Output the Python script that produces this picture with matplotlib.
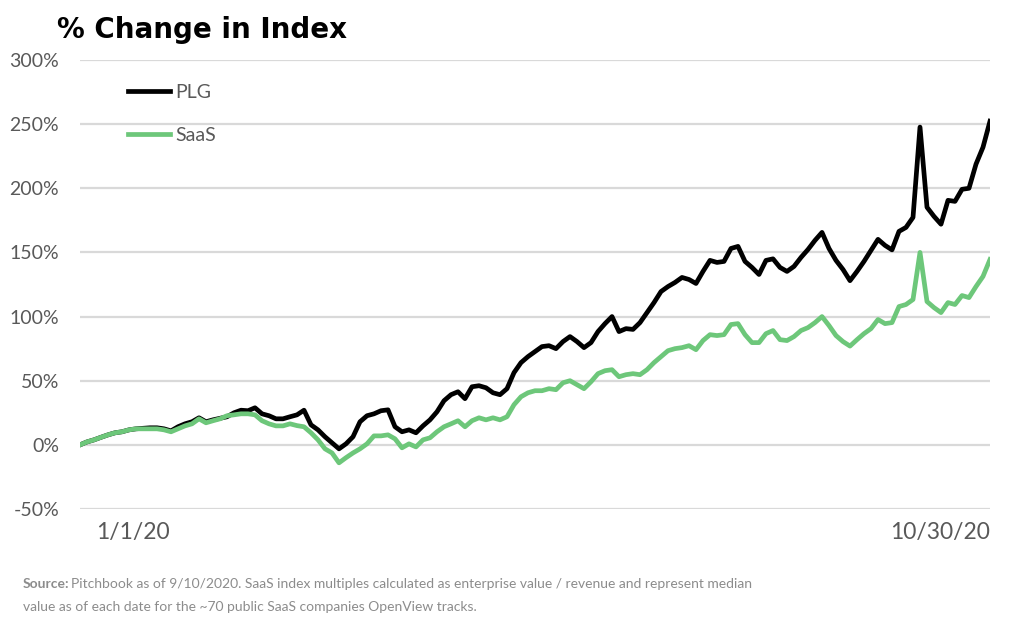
import numpy as np
from matplotlib import pyplot as plt

# % change in index (evenly spaced samples 1/1/20 .. 10/30/20)
plg = [0, 2.3, 3.9, 5.9, 7.8, 9.4, 10.2, 11.7, 12.5, 12.9,
       13.3, 13.3, 12.5, 10.9, 14.1, 16.4, 18.0, 21.1, 18.0, 19.5,
       20.7, 21.9, 25.0, 27.0, 26.6, 28.9, 24.2, 22.7, 20.3, 20.3,
       21.9, 23.4, 27.0, 15.6, 11.7, 6.3, 1.6, -3.1, 0.8, 6.3,
       18.0, 22.7, 24.2, 26.6, 27.3, 14.1, 10.2, 11.7, 9.4, 14.8,
       19.5, 25.8, 34.4, 39.1, 41.4, 36.0, 45.3, 46.1, 44.5, 40.6,
       39.1, 43.8, 56.3, 64.1, 68.8, 72.7, 76.6, 77.3, 75.0, 80.5,
       84.4, 80.5, 75.8, 79.7, 88.3, 94.5, 100.0, 88.3, 90.6, 90.0,
       95.3, 103.1, 110.9, 119.5, 123.4, 126.6, 130.5, 128.9, 125.8, 135.2,
       143.8, 142.2, 143.0, 153.1, 154.7, 143.0, 138.3, 132.8, 143.8, 145.0,
       138.3, 135.2, 139.1, 146.1, 152.3, 159.4, 165.6, 153.1, 143.8, 136.7,
       128.0, 135.2, 143.0, 151.6, 160.2, 155.5, 152.0, 166.4, 169.5, 177.3,
       247.7, 185.2, 178.1, 172.0, 190.6, 189.8, 199.2, 200.0, 218.8, 232.0,
       252.3]
saas = [0, 2.3, 3.9, 5.9, 7.8, 9.4, 10.2, 11.7, 12.5, 12.5,
        12.5, 12.5, 11.7, 10.2, 12.5, 14.8, 16.4, 20.3, 17.2, 18.8,
        20.3, 22.7, 23.4, 24.2, 24.2, 23.4, 18.8, 16.4, 14.8, 14.8,
        16.4, 15.0, 14.1, 9.4, 3.9, -3.1, -6.3, -14.0, -10.0, -6.3,
        -3.1, 0.8, 7.0, 7.0, 7.8, 4.7, -2.3, 0.8, -1.6, 3.9,
        5.5, 10.2, 14.1, 16.4, 18.8, 14.1, 18.8, 21.1, 19.5, 21.1,
        19.5, 21.9, 31.3, 37.5, 40.6, 42.2, 42.2, 43.8, 43.0, 48.4,
        50.0, 46.9, 43.8, 49.2, 55.5, 57.8, 58.6, 53.1, 54.7, 55.5,
        54.7, 58.6, 64.1, 68.8, 73.4, 75.0, 75.8, 77.3, 74.2, 81.3,
        85.9, 85.2, 85.9, 93.8, 94.5, 85.9, 79.7, 79.7, 86.7, 89.1,
        82.0, 81.3, 84.4, 89.1, 91.4, 95.3, 100.0, 93.0, 85.2, 80.5,
        77.0, 82.0, 86.7, 90.6, 97.7, 94.5, 95.3, 107.8, 109.4, 113.3,
        150.0, 111.7, 107.0, 103.1, 110.9, 109.4, 116.4, 114.8, 123.4, 131.3,
        144.5]
yticks = [-50, 0, 50, 100, 150, 200, 250, 300]
date_labels = ['1/1/20', '10/30/20']

plt.rcParams['font.family'] = ['Lato', 'DejaVu Sans']
grey = '#595959'
green = '#6dc77a'

fig = plt.figure(figsize=(10.24, 6.18), dpi=100)
ax = fig.add_axes([80 / 1024, 1 - 509 / 618, 910 / 1024, 449 / 618])

t = np.arange(len(plg))
ax.plot(t, plg, color='black', lw=3.4, label='PLG', solid_joinstyle='round')
ax.plot(t, saas, color=green, lw=3.4, label='SaaS', solid_joinstyle='round')

ax.set_xlim(0, len(plg) - 1)
ax.set_ylim(-50, 300)
ax.set_yticks(yticks)
ax.set_yticklabels(['%d%%' % v for v in yticks], color=grey, fontsize=14)
ax.tick_params(axis='y', length=0, pad=15)
ax.set_xticks([])
ax.grid(axis='y', color='#d9d9d9', lw=1.6)
ax.set_axisbelow(True)
for s in ax.spines.values():
    s.set_visible(False)

ax.text(0.018, -0.03, date_labels[0], transform=ax.transAxes, ha='left', va='top',
        fontsize=16.5, color=grey)
ax.text(1.0, -0.03, date_labels[1], transform=ax.transAxes, ha='right', va='top',
        fontsize=16.5, color=grey)

leg = ax.legend(loc='upper left', bbox_to_anchor=(0.033, 0.985), frameon=False,
                fontsize=14, handlelength=2.2, handletextpad=0.25, labelspacing=1.3)
for txt in leg.get_texts():
    txt.set_color(grey)

fig.text(0.056, 0.952, '% Change in Index', fontsize=20, fontweight='bold',
         family='DejaVu Sans', ha='left', va='center', color='black')

fig.text(0.022, 0.055, 'Source:', fontsize=10, fontweight='bold', color='#8c8c8c',
         ha='left', va='center')
fig.text(0.022 + 0.047, 0.055, 'Pitchbook as of 9/10/2020. SaaS index multiples calculated as '
         'enterprise value / revenue and represent median', fontsize=10, color='#8c8c8c',
         ha='left', va='center')
fig.text(0.022, 0.018, 'value as of each date for the ~70 public SaaS companies OpenView tracks.',
         fontsize=10, color='#8c8c8c', ha='left', va='center')

fig.savefig('out.png', dpi=100)
